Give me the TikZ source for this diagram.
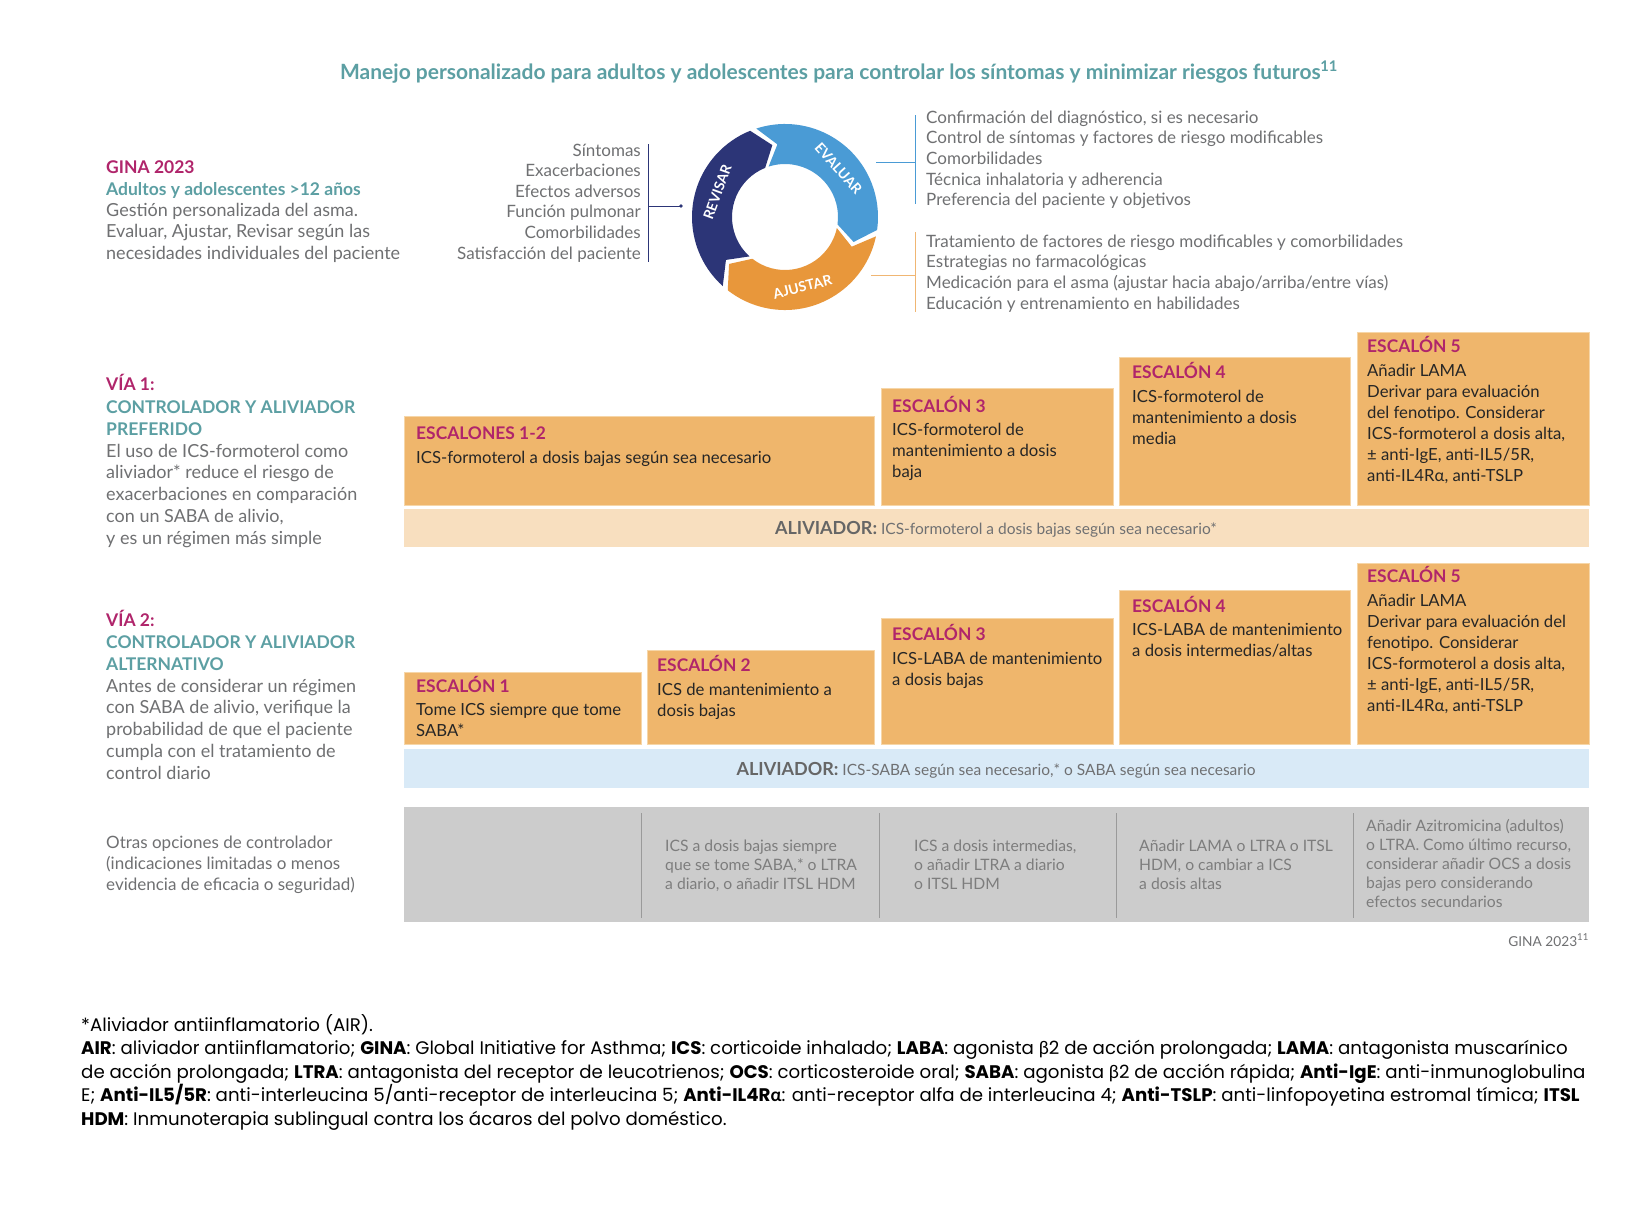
\documentclass[tikz,border=0pt]{standalone}
\usepackage{fontspec}
\setmainfont{Lato}
\newfontfamily\footfont{Poppins}
\newfontfamily\grkfont{Lato}
\usetikzlibrary{calc}
\definecolor{cteal}{HTML}{5C9FA3}
\definecolor{cmag}{HTML}{B0256B}
\definecolor{cgray}{HTML}{6F7072}
\definecolor{cdark}{HTML}{262626}
\definecolor{cnavy}{HTML}{2C3577}
\definecolor{cblue}{HTML}{4A9BD5}
\definecolor{corange}{HTML}{E8973B}
\definecolor{corline}{HTML}{F0B673}
\definecolor{cbox}{HTML}{EFB66C}
\definecolor{cboxedge}{HTML}{F6D6A8}
\definecolor{cpeach}{HTML}{F8DFBF}
\definecolor{cltblue}{HTML}{D9EAF7}
\definecolor{cband}{HTML}{CCCCCC}
\definecolor{cdiv}{HTML}{9A9A9A}
\definecolor{cother}{HTML}{7D7D7D}
\definecolor{caliv}{HTML}{666666}
\tikzset{
 txt/.style={inner sep=0pt, anchor=base west, align=left},
 lst/.style={txt, text=cgray, font=\fontsize{17}{20.7}\selectfont},
 lstr/.style={inner sep=0pt, anchor=base east, align=right, text=cgray, font=\fontsize{17}{20.6}\selectfont},
 sidehead/.style={txt, text=cmag, font=\bfseries\fontsize{17.5}{22}\selectfont},
 sideteal/.style={txt, text=cteal, font=\bfseries\fontsize{17.5}{22.3}\selectfont},
 sidebody/.style={txt, text=cgray, font=\fontsize{18}{21.9}\selectfont},
 stepbox/.style={fill=cbox, draw=cboxedge, line width=0.8pt, inner sep=0pt, anchor=north west},
 head/.style={txt, text=cmag, font=\bfseries\fontsize{17.4}{21}\selectfont},
 body/.style={txt, text=cdark, font=\fontsize{16.7}{21}\selectfont},
 relbar/.style={inner sep=0pt, anchor=north west},
 reltxt/.style={inner sep=0pt, anchor=base, font=\fontsize{15.5}{17}\selectfont, text=cgray},
 other/.style={txt, text=cother, font=\fontsize{15.7}{19}\selectfont},
 ringtxt/.style={text=white, font=\bfseries\fontsize{14}{16}\selectfont, inner sep=0pt},
 foot/.style={txt, text=black, font=\footfont\fontsize{18.2}{23.5}\selectfont},
}
\begin{document}
\begin{tikzpicture}[x=1pt,y=-1pt]
\useasboundingbox[fill=white] (0,0) rectangle (1640,1208);

% title
\node[inner sep=0pt, anchor=base, text=cteal, font=\bfseries\fontsize{21}{24}\selectfont] (title) at (839,79)
 {Manejo personalizado para adultos y adolescentes para controlar los síntomas y minimizar riesgos futuros\textsuperscript{11}};

% top-left block
\node[sidehead] (gina) at (106,173) {GINA 2023};
\node[sideteal] (adult) at (106,195) {Adultos y adolescentes >12 años};
\node[sidebody] (gest) at (106,259.8) {Gestión personalizada del asma.\\Evaluar, Ajustar, Revisar según las\\necesidades individuales del paciente};

% left list
\node[lstr] (revlist) at (641,259) {Síntomas\\Exacerbaciones\\Efectos adversos\\Función pulmonar\\Comorbilidades\\Satisfacción del paciente};
\coordinate (rvtop) at (648,144);
\coordinate (rvbot) at (648,262);
\coordinate (rvmid) at (648,206);
\coordinate (rvdot) at (681,206);
\draw[cnavy, line width=1pt] (rvtop) -- (rvbot);
\draw[cnavy, line width=1pt] (rvmid) -- (rvdot);
\fill[cnavy] (rvdot) circle (1.8);

% cycle
\begin{scope}[shift={(785,217)}, yscale=-1]
 \fill[cnavy] (228:93) arc[start angle=228, end angle=112, radius=93] -- (100:73) -- (112:53)
   arc[start angle=112, end angle=228, radius=53] -- (216:73) -- cycle;
 \fill[cblue] (108:93) arc[start angle=108, end angle=-8, radius=93] -- (-20:73) -- (-8:53)
   arc[start angle=-8, end angle=108, radius=53] -- (96:73) -- cycle;
 \fill[corange] (-12:93) arc[start angle=-12, end angle=-128, radius=93] -- (-140:73) -- (-128:53)
   arc[start angle=-128, end angle=-12, radius=53] -- (-24:73) -- cycle;
 \node[ringtxt, rotate=70] (trev) at (160:72) {REVISAR};
 \node[ringtxt, rotate=-48] (teval) at (42:72) {EVALUAR};
 \node[ringtxt, rotate=14] (tajus) at (-76:72) {AJUSTAR};
\end{scope}

% right lists
\coordinate (evA) at (876,162);
\coordinate (evB) at (915,162);
\coordinate (evT) at (915,115);
\coordinate (evU) at (915,204);
\draw[cblue, line width=1pt] (evA) -- (evB);
\draw[cblue, line width=1pt] (evT) -- (evU);
\node[lst] (evlist) at (926,205.8) {Confirmación del diagnóstico, si es necesario\\Control de síntomas y factores de riesgo modificables\\Comorbilidades\\Técnica inhalatoria y adherencia\\Preferencia del paciente y objetivos};
\coordinate (ajA) at (871,275);
\coordinate (ajB) at (915,275);
\coordinate (ajT) at (915,232);
\coordinate (ajU) at (915,312);
\draw[corline, line width=1pt] (ajA) -- (ajB);
\draw[corline, line width=1pt] (ajT) -- (ajU);
\node[lst] (ajlist) at (926,309.1) {Tratamiento de factores de riesgo modificables y comorbilidades\\Estrategias no farmacológicas\\Medicación para el asma (ajustar hacia abajo/arriba/entre vías)\\Educación y entrenamiento en habilidades};

% Via 1 left
\node[sidehead] (via1) at (106,390) {VÍA 1:};
\node[sideteal] (via1t) at (106,435.3) {CONTROLADOR Y ALIVIADOR\\PREFERIDO};
\node[sidebody] (via1b) at (106,544.6) {El uso de ICS-formoterol como\\aliviador* reduce el riesgo de\\exacerbaciones en comparación\\con un SABA de alivio,\\y es un régimen más simple};

% Via 1 boxes
\node[stepbox, minimum width=470pt, minimum height=89pt] (a12) at (404,416) {};
\node[stepbox, minimum width=232pt, minimum height=117pt] (a3) at (881,388) {};
\node[stepbox, minimum width=231pt, minimum height=148pt] (a4) at (1119,357) {};
\node[stepbox, minimum width=232pt, minimum height=173pt] (a5) at (1357,332) {};
\node[head] (a12h) at (416,439) {ESCALONES 1-2};
\node[body] (a12b) at (416,463) {ICS-formoterol a dosis bajas según sea necesario};
\node[head] (a3h) at (892,412) {ESCALÓN 3};
\node[body] (a3b) at (892,477) {ICS-formoterol de\\mantenimiento a dosis\\baja};
\node[head] (a4h) at (1132,378) {ESCALÓN 4};
\node[body] (a4b) at (1132,444) {ICS-formoterol de\\mantenimiento a dosis\\media};
\node[head] (a5h) at (1367,352) {ESCALÓN 5};
\node[body] (a5b) at (1367,481) {Añadir LAMA\\Derivar para evaluación\\del fenotipo. Considerar\\ICS-formoterol a dosis alta,\\± anti-IgE, anti-IL5/5R,\\anti-IL4Rα, anti-TSLP};
\node[relbar, fill=cpeach, minimum width=1185pt, minimum height=38pt] (rel1) at (404,509) {};
\node[reltxt] (rel1t) at (996,534) {{\color{caliv}\bfseries\fontsize{18}{18}\selectfont ALIVIADOR:} ICS-formoterol a dosis bajas según sea necesario*};

% Via 2 left
\node[sidehead] (via2) at (106,626) {VÍA 2:};
\node[sideteal] (via2t) at (106,670.3) {CONTROLADOR Y ALIVIADOR\\ALTERNATIVO};
\node[sidebody] (via2b) at (106,779.6) {Antes de considerar un régimen\\con SABA de alivio, verifique la\\probabilidad de que el paciente\\cumpla con el tratamiento de\\control diario};

% Via 2 boxes
\node[stepbox, minimum width=237pt, minimum height=72pt] (b1) at (404,672) {};
\node[stepbox, minimum width=227pt, minimum height=94pt] (b2) at (647,650) {};
\node[stepbox, minimum width=232pt, minimum height=126pt] (b3) at (881,618) {};
\node[stepbox, minimum width=231pt, minimum height=154pt] (b4) at (1119,590) {};
\node[stepbox, minimum width=232pt, minimum height=181pt] (b5) at (1357,563) {};
\node[head] (b1h) at (416,692) {ESCALÓN 1};
\node[body] (b1b) at (416,736) {Tome ICS siempre que tome\\SABA*};
\node[head] (b2h) at (657,671) {ESCALÓN 2};
\node[body] (b2b) at (657,716) {ICS de mantenimiento a\\dosis bajas};
\node[head] (b3h) at (892,640) {ESCALÓN 3};
\node[body] (b3b) at (892,685) {ICS-LABA de mantenimiento\\a dosis bajas};
\node[head] (b4h) at (1132,612) {ESCALÓN 4};
\node[body] (b4b) at (1132,656) {ICS-LABA de mantenimiento\\a dosis intermedias/altas};
\node[head] (b5h) at (1367,582) {ESCALÓN 5};
\node[body] (b5b) at (1367,711) {Añadir LAMA\\Derivar para evaluación del\\fenotipo. Considerar\\ICS-formoterol a dosis alta,\\± anti-IgE, anti-IL5/5R,\\anti-IL4Rα, anti-TSLP};
\node[relbar, fill=cltblue, minimum width=1185pt, minimum height=39pt] (rel2) at (404,749) {};
\node[reltxt] (rel2t) at (996,775) {{\color{caliv}\bfseries\fontsize{18}{18}\selectfont ALIVIADOR:} ICS-SABA según sea necesario,* o SABA según sea necesario};

% other options
\node[txt, text=cgray, font=\fontsize{17}{21}\selectfont] (otras) at (106,890) {Otras opciones de controlador\\(indicaciones limitadas o menos\\evidencia de eficacia o seguridad)};
\node[relbar, fill=cband, minimum width=1185pt, minimum height=115pt] (band) at (404,807) {};
\foreach \xx in {641,879,1116,1353} \draw[cdiv, line width=1pt] (\xx,813) -- (\xx,918);
\node[other] (o2) at (665,889) {ICS a dosis bajas siempre\\que se tome SABA,* o LTRA\\a diario, o añadir ITSL HDM};
\node[other] (o3) at (914,889) {ICS a dosis intermedias,\\o añadir LTRA a diario\\o ITSL HDM};
\node[other] (o4) at (1139,889) {Añadir LAMA o LTRA o ITSL\\HDM, o cambiar a ICS\\a dosis altas};
\node[other] (o5) at (1366,907) {Añadir Azitromicina (adultos)\\o LTRA. Como último recurso,\\considerar añadir OCS a dosis\\bajas pero considerando\\efectos secundarios};
\node[inner sep=0pt, anchor=base east, text=cgray, font=\fontsize{13.7}{15}\selectfont] (src) at (1589,946) {GINA 2023\textsuperscript{11}};

% footnote
\node[foot] (fn) at (81,1125) {*Aliviador antiinflamatorio (AIR).\\
\textbf{AIR}: aliviador antiinflamatorio; \textbf{GINA}: Global Initiative for Asthma; \textbf{ICS}: corticoide inhalado; \textbf{LABA}: agonista {\grkfont β}2 de acción prolongada; \textbf{LAMA}: antagonista muscarínico\\
de acción prolongada; \textbf{LTRA}: antagonista del receptor de leucotrienos; \textbf{OCS}: corticosteroide oral; \textbf{SABA}: agonista {\grkfont β}2 de acción rápida; \textbf{Anti-IgE}: anti-inmunoglobulina\\
E; \textbf{Anti-IL5/5R}: anti-interleucina 5/anti-receptor de interleucina 5; \textbf{Anti-IL4R{\grkfont α}}: anti-receptor alfa de interleucina 4; \textbf{Anti-TSLP}: anti-linfopoyetina estromal tímica; \textbf{ITSL}\\
\textbf{HDM}: Inmunoterapia sublingual contra los ácaros del polvo doméstico.};
\end{tikzpicture}
\end{document}
